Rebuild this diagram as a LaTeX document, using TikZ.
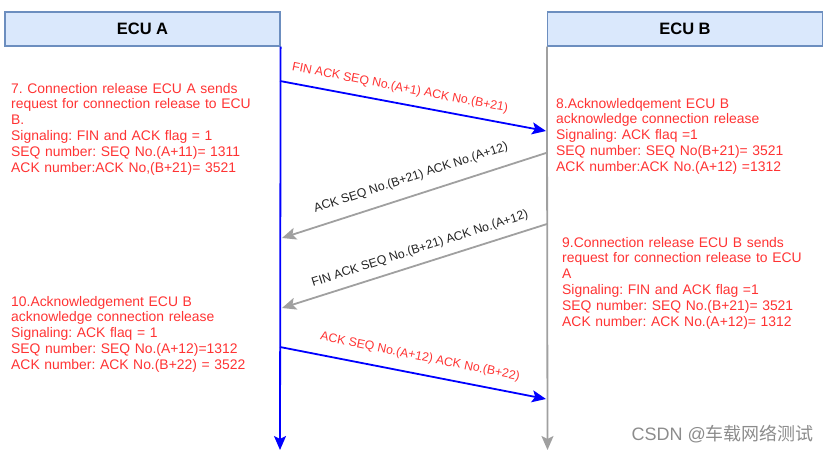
\documentclass[tikz,border=0pt]{standalone}
\usepackage{fontspec}
\setmainfont{Liberation Sans}
\newfontfamily\cjk{Noto Sans CJK SC}
\usetikzlibrary{arrows.meta}
\definecolor{txtred}{RGB}{255,51,51}
\definecolor{lineblue}{RGB}{0,0,255}
\definecolor{linegray}{RGB}{160,160,160}
\definecolor{boxfill}{RGB}{218,232,252}
\definecolor{boxdraw}{RGB}{108,142,191}
\definecolor{wmgray}{RGB}{140,140,140}
\definecolor{msgdark}{RGB}{35,35,35}
\frenchspacing
\begin{document}
\begin{tikzpicture}[x=1pt,y=-1pt,
  ecubox/.style={draw=boxdraw, fill=boxfill, line width=1.2pt, minimum width=275pt, minimum height=34pt, inner sep=0, font=\fontsize{16.5}{19}\selectfont\bfseries},
  tip/.style={-{Stealth[length=14pt,width=12pt,inset=3pt]}},
  blueline/.style={draw=lineblue, line width=1.8pt, tip},
  grayline/.style={draw=linegray, line width=1.8pt, tip},
  note/.style={anchor=base west, text width=300pt, align=left, inner sep=0, text=txtred, font=\fontsize{13.9}{15.9}\selectfont\frenchspacing},
  msg/.style={inner sep=0, font=\fontsize{12.3}{14}\selectfont}
]
\useasboundingbox (0,0) rectangle (830,456);

% headers
\node[ecubox] (ecuA) at (142.5,29) {ECU A};
\node[ecubox] (ecuB) at (685,29) {ECU B};

% lifelines
\coordinate (endA) at (280,450);
\coordinate (endB) at (547.5,450);
\draw[blueline] (ecuA.south east) -- (endA);
\draw[grayline] (ecuB.south west) -- (endB);

% message points
\coordinate (a1) at (280,81);
\coordinate (b1) at (546,131);
\coordinate (b2) at (546,153);
\coordinate (a2) at (282,238);
\coordinate (b3) at (547,224);
\coordinate (a3) at (282,308);
\coordinate (a4) at (280,347);
\coordinate (b4) at (546,399);

\draw[blueline] (a1) -- (b1);
\draw[grayline] (b2) -- (a2);
\draw[grayline] (b3) -- (a3);
\draw[blueline] (a4) -- (b4);

% message labels
\node[msg, text=txtred, rotate=-11] (m1) at (400,88) {FIN ACK SEQ No.(A+1) ACK No.(B+21)};
\node[msg, text=msgdark, rotate=18] (m2) at (411,178) {ACK SEQ No.(B+21) ACK No.(A+12)};
\node[msg, text=msgdark, rotate=17.7] (m3) at (420,249) {FIN ACK SEQ No.(B+21) ACK No.(A+12)};
\node[msg, text=txtred, rotate=-11.5] (m4) at (420,357) {ACK SEQ No.(A+12) ACK No.(B+22)};

% notes
\node[note] (n7) at (11,93) {7. Connection release ECU A sends\\request for connection release to ECU\\B.\\Signaling: FIN and ACK flag = 1\\SEQ number: SEQ No.(A+11)= 1311\\ACK number:ACK No,(B+21)= 3521};
\node[note] (n8) at (556,108) {8.Acknowledqement ECU B\\acknowledge connection release\\Signaling: ACK flaq =1\\SEQ number: SEQ No(B+21)= 3521\\ACK number:ACK No.(A+12) =1312};
\node[note] (n9) at (562,247) {9.Connection release ECU B sends\\request for connection release to ECU\\A\\Signaling: FIN and ACK flag =1\\SEQ number: SEQ No.(B+21)= 3521\\ACK number: ACK No.(A+12)= 1312};
\node[note] (n10) at (11,306) {10.Acknowledgement ECU B\\acknowledge connection release\\Signaling: ACK flaq = 1\\SEQ number: SEQ No.(A+12)=1312\\ACK number: ACK No.(B+22) = 3522};

% watermark
\node[anchor=east, inner sep=0, text=wmgray, font=\fontsize{18}{21}\selectfont] (wm) at (814,434) {CSDN @{\cjk 车载网络测试}};
\end{tikzpicture}
\end{document}
